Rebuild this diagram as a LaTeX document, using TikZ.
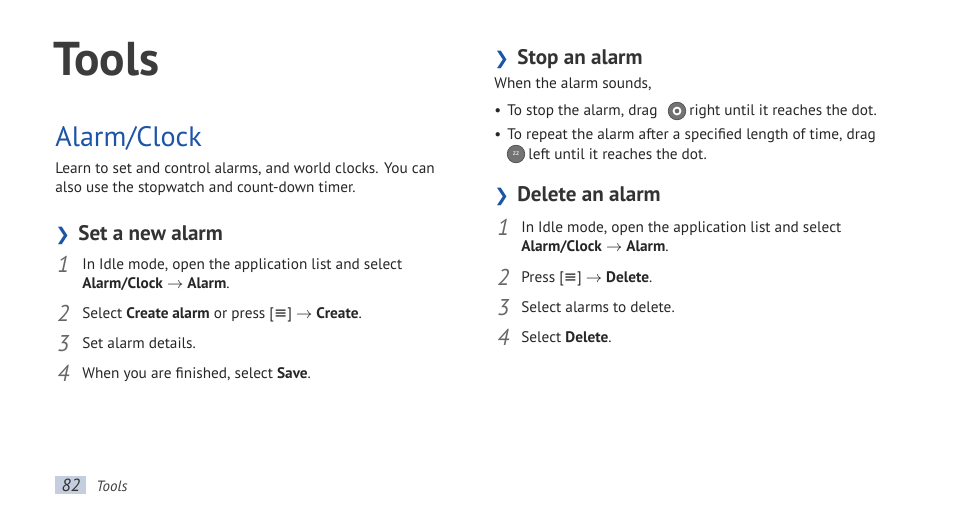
\documentclass[tikz,border=0pt]{standalone}
\usepackage{fontspec}
\setmainfont{PT Sans}
\newfontfamily\dejavu{DejaVu Sans}
\usetikzlibrary{positioning}
\definecolor{headBlue}{RGB}{28, 84, 166}
\definecolor{titleGray}{RGB}{60, 60, 60}
\definecolor{pageBox}{RGB}{196, 206, 222}
\newcommand{\menukey}{{\dejavu\small ≡}}
\tikzset{
    body/.style={anchor=base west, inner sep=0pt, font=\fontsize{8.7pt}{11pt}\selectfont, text=black!85},
    num/.style={anchor=base west, inner sep=0pt, font=\fontsize{13pt}{13pt}\selectfont\itshape, text=black!60},
    head/.style={anchor=base west, inner sep=0pt, font=\fontsize{12pt}{14pt}\selectfont\bfseries, text=black!80},
    chev/.style={anchor=base west, inner sep=0pt, font=\dejavu\fontsize{10pt}{14pt}\selectfont\bfseries, text=headBlue},
    knob/.style={circle, draw=black!70, fill=black!55, minimum size=10pt, inner sep=0pt, font=\fontsize{4pt}{4pt}\selectfont, text=white}
}
\begin{document}
\begin{tikzpicture}[x=0.02cm, y=-0.02cm]
    \useasboundingbox (0,0) rectangle (954,518);

    % Left column
    \node (title) [anchor=base west, inner sep=0pt, font=\fontsize{27pt}{30pt}\selectfont\bfseries, text=titleGray] at (53,75) {Tools};
    \node (sect) [anchor=base west, inner sep=0pt, font=\fontsize{16pt}{18pt}\selectfont, text=headBlue] at (55,146) {Alarm/Clock};
    \node (introa) [body] at (55,173) {Learn to set and control alarms, and world clocks. You can};
    \node (introb) [body] at (55,192) {also use the stopwatch and count-down timer.};

    \node (chevA) [chev] at (55,240) {❯};
    \node (newalarm) [head] at (78,240) {Set a new alarm};
    \node (nA1) [num] at (57,272) {1};
    \node (sA1a) [body] at (82,269) {In Idle mode, open the application list and select};
    \node (sA1b) [body] at (82,288) {\textbf{Alarm/Clock} $\rightarrow$ \textbf{Alarm}.};
    \node (nA2) [num] at (57,321) {2};
    \node (sA2) [body] at (82,318) {Select \textbf{Create alarm} or press [\menukey] $\rightarrow$ \textbf{Create}.};
    \node (nA3) [num] at (57,351) {3};
    \node (sA3) [body] at (82,348) {Set alarm details.};
    \node (nA4) [num] at (57,381) {4};
    \node (sA4) [body] at (82,378) {When you are finished, select \textbf{Save}.};

    % Right column
    \node (chevB) [chev] at (494,64) {❯};
    \node (stopalarm) [head] at (517,64) {Stop an alarm};
    \node (sounds) [body] at (494,88) {When the alarm sounds,};
    \node (bulA) [body] at (494,115) {•};
    \node (stopa) [body] at (507,115) {To stop the alarm, drag};
    \node (knobA) [knob] at (677,111) {};
    \fill [white] (knobA) circle (2.5pt);
    \fill [black!60] (knobA) circle (1.3pt);
    \node (stopc) [body] at (689,115) {right until it reaches the dot.};
    \node (bulB) [body] at (494,139) {•};
    \node (repa) [body] at (507,139) {To repeat the alarm after a specified length of time, drag};
    \node (knobB) [knob] at (516,154) {zz};
    \node (repb) [body] at (528,159) {left until it reaches the dot.};

    \node (chevC) [chev] at (494,201) {❯};
    \node (delalarm) [head] at (517,201) {Delete an alarm};
    \node (nB1) [num] at (497,235) {1};
    \node (sB1a) [body] at (521,232) {In Idle mode, open the application list and select};
    \node (sB1b) [body] at (521,251) {\textbf{Alarm/Clock} $\rightarrow$ \textbf{Alarm}.};
    \node (nB2) [num] at (497,285) {2};
    \node (sB2) [body] at (521,282) {Press [\menukey] $\rightarrow$ \textbf{Delete}.};
    \node (nB3) [num] at (497,315) {3};
    \node (sB3) [body] at (521,312) {Select alarms to delete.};
    \node (nB4) [num] at (497,345) {4};
    \node (sB4) [body] at (521,342) {Select \textbf{Delete}.};

    % Footer
    \node (pagebox) [fill=pageBox, minimum width=31*0.02cm, minimum height=18*0.02cm, inner sep=0pt, anchor=north west, font=\fontsize{10pt}{10pt}\selectfont\itshape, text=black!80] at (55,476) {82};
    \node (pagename) [anchor=base west, inner sep=0pt, font=\fontsize{8.5pt}{10pt}\selectfont\itshape, text=black!75] at (96,491) {Tools};
\end{tikzpicture}
\end{document}
